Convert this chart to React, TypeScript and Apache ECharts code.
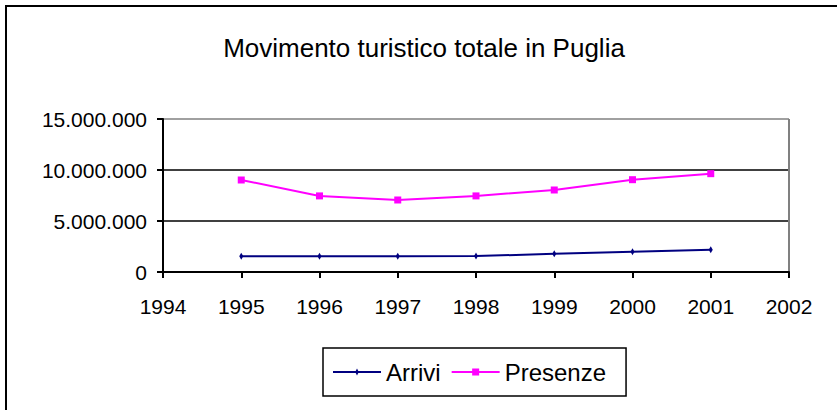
import React, { useEffect, useRef } from "react";
import * as echarts from "echarts";

const years = [1995, 1996, 1997, 1998, 1999, 2000, 2001];
const arrivi = [1550000, 1550000, 1550000, 1560000, 1780000, 1980000, 2170000];
const presenze = [9020000, 7460000, 7060000, 7460000, 8040000, 9050000, 9640000];
const titleText = "Movimento turistico totale in Puglia";
const seriesNames = ["Arrivi", "Presenze"];

const FONT = "'Liberation Sans', Arial, sans-serif";

const fmtDots = (v: number) => String(v).replace(/\B(?=(\d{3})+(?!\d))/g, ".");

const BOX = "M0,0h0.01v0.01H0z M47.99,11.99h0.01v0.01h-0.01z M0,5.1h48v1.8H0z ";
const iconArrivi = "path://" + BOX + "M24,2.5 L25.8,6 L24,9.5 L22.2,6z";
const iconPresenze = "path://" + BOX + "M20.5,2.5h7v7h-7z";

export default function App() {
  const ref = useRef<HTMLDivElement>(null);
  useEffect(() => {
    document.body.style.margin = "0";
    const chart = echarts.init(ref.current!, undefined, { renderer: "svg" });
    chart.setOption({
      animation: false,
      backgroundColor: "#ffffff",
      textStyle: { fontFamily: FONT },
      graphic: [
        {
          type: "rect",
          shape: { x: 6, y: 6, width: 900, height: 500 },
          style: { fill: "none", stroke: "#000", lineWidth: 2 },
          silent: true,
        },
        {
          type: "text",
          x: 424,
          y: 47.5,
          style: {
            text: titleText,
            fontFamily: FONT,
            fontSize: 26,
            fill: "#000",
            textAlign: "center",
            textVerticalAlign: "middle",
          },
        },
      ],
      grid: { left: 163, top: 119, width: 626, height: 153, containLabel: false },
      xAxis: {
        type: "value",
        min: 1994,
        max: 2002,
        interval: 1,
        axisLine: { show: true, onZero: false, lineStyle: { color: "#000", width: 2 } },
        axisTick: { show: true, length: 6, inside: false, lineStyle: { color: "#000", width: 2 } },
        axisLabel: {
          formatter: (v: number) => String(v),
          fontFamily: FONT,
          fontSize: 21,
          color: "#000",
          margin: 24,
        },
        splitLine: {
          show: true,
          lineStyle: {
            color: ["transparent", "transparent", "transparent", "transparent", "transparent", "transparent", "transparent", "transparent", "#808080"],
            width: 2,
          },
        },
      },
      yAxis: {
        type: "value",
        min: 0,
        max: 15000000,
        interval: 5000000,
        axisLine: { show: true, lineStyle: { color: "#000", width: 2 } },
        axisTick: { show: true, length: 6, inside: false, lineStyle: { color: "#000", width: 2 } },
        axisLabel: {
          formatter: fmtDots,
          fontFamily: FONT,
          fontSize: 21,
          color: "#000",
          margin: 16,
        },
        splitLine: {
          show: true,
          lineStyle: { color: ["#000", "#000", "#000", "#808080"], width: 1.5 },
        },
      },
      legend: {
        data: [
          { name: seriesNames[0], icon: iconArrivi },
          { name: seriesNames[1], icon: iconPresenze },
        ],
        left: 323,
        top: 348,
        orient: "horizontal",
        padding: [12, 20, 12, 10],
        borderColor: "#000",
        borderWidth: 1.5,
        itemWidth: 48,
        itemHeight: 12,
        itemGap: 11,
        textStyle: { fontFamily: FONT, fontSize: 24, lineHeight: 24, color: "#000" },
      },
      series: [
        {
          name: seriesNames[0],
          type: "line",
          data: years.map((y, i) => [y, arrivi[i]]),
          lineStyle: { color: "#000080", width: 2 },
          itemStyle: { color: "#000080" },
          symbol: "diamond",
          symbolSize: [4, 7],
          showSymbol: true,
        },
        {
          name: seriesNames[1],
          type: "line",
          data: years.map((y, i) => [y, presenze[i]]),
          lineStyle: { color: "#ff00ff", width: 2 },
          itemStyle: { color: "#ff00ff" },
          symbol: "rect",
          symbolSize: 7,
          showSymbol: true,
        },
      ],
    });
    return () => chart.dispose();
  }, []);
  return <div ref={ref} style={{ width: 837, height: 410 }} />;
}
